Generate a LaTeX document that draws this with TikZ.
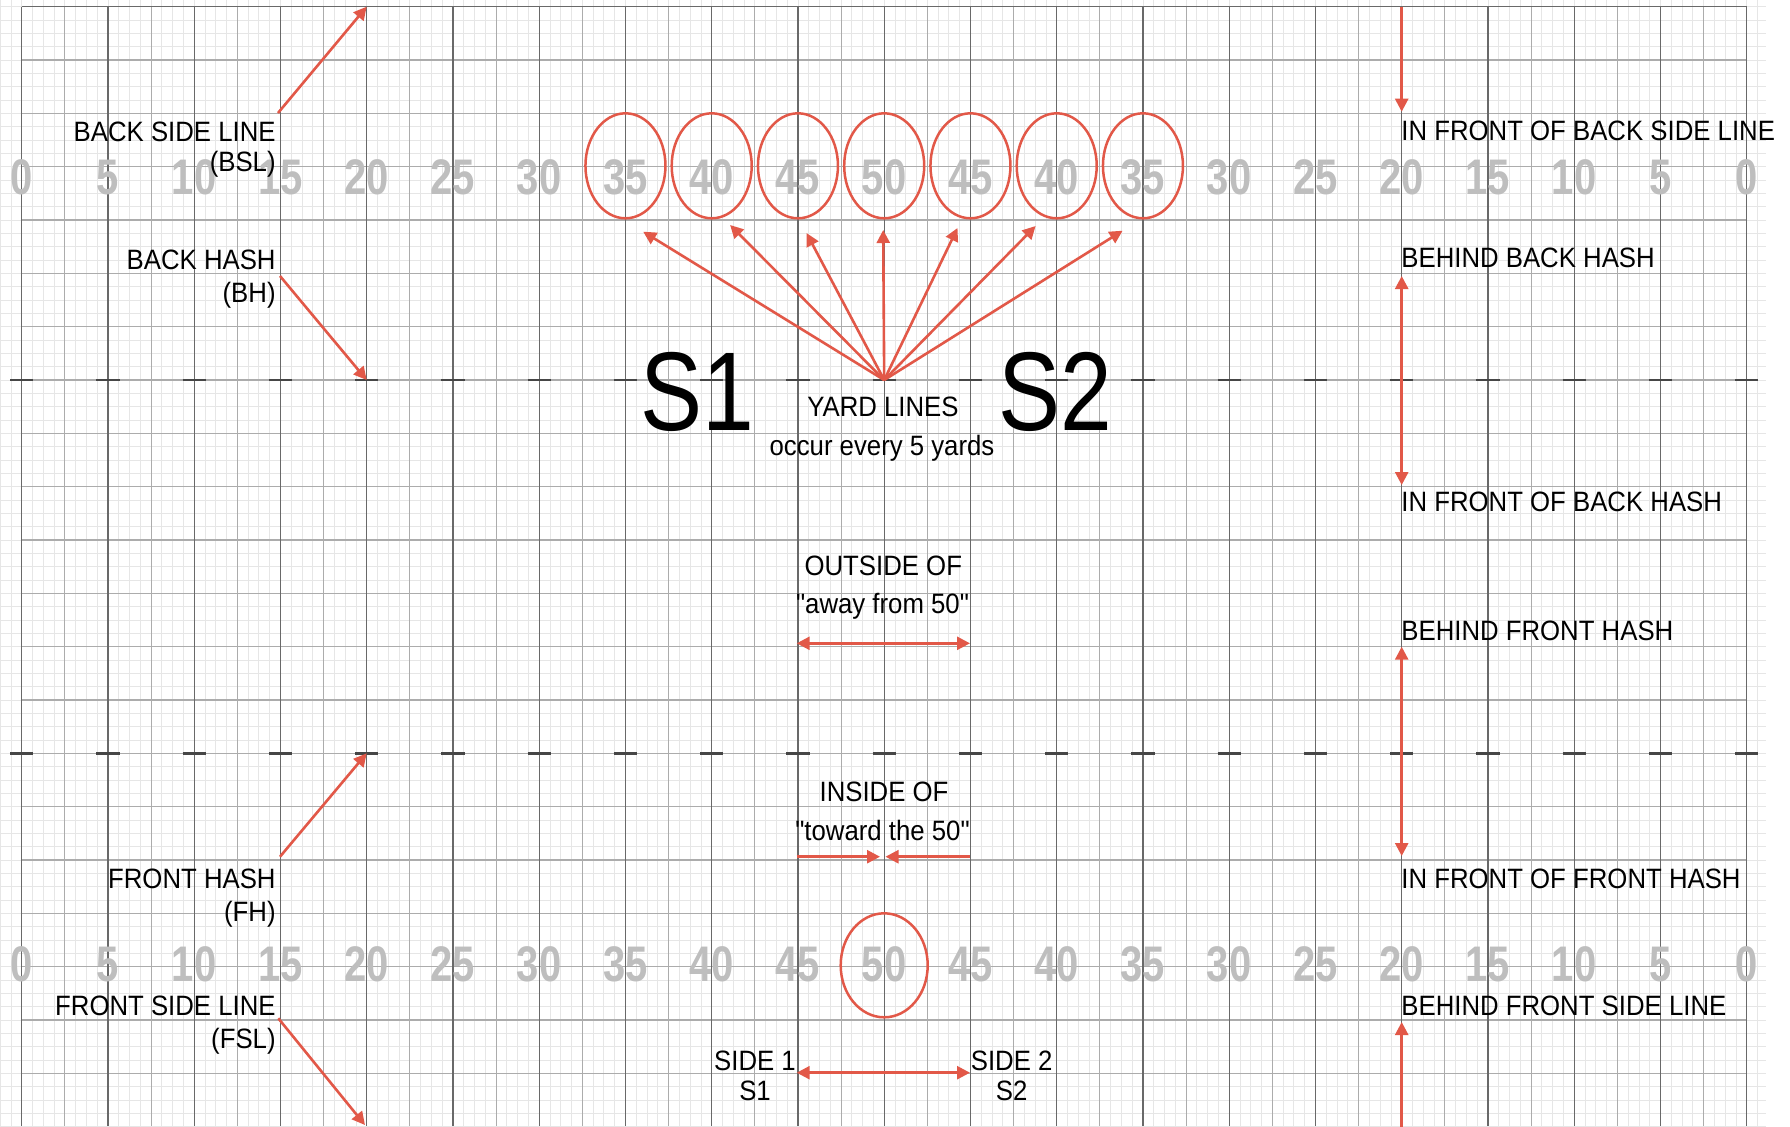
\documentclass[tikz,border=0pt]{standalone}
\usepackage{fontspec}
\setmainfont{Liberation Sans}[FakeStretch=0.92, Ligatures=TeXOff]
\newfontfamily\numfont{Liberation Sans}[FakeStretch=0.8]
\newfontfamily\bigfont{Liberation Sans}[FakeStretch=0.83]
\usetikzlibrary{arrows.meta}
\definecolor{arrowred}{RGB}{226,88,72}
\definecolor{numgray}{RGB}{190,190,190}
\definecolor{darkline}{RGB}{105,105,105}
\definecolor{midline}{RGB}{172,172,172}
\definecolor{fineline}{RGB}{230,230,230}
\definecolor{hashcol}{RGB}{70,70,70}
\begin{document}
\begin{tikzpicture}[x=0.5pt,y=-0.5pt,
  fine/.style={draw=fineline, line width=0.4pt},
  mid/.style={draw=midline, line width=0.55pt},
  major/.style={draw=darkline, line width=0.65pt},
  hashmark/.style={draw=hashcol, line width=1.3pt},
  yardnum/.style={text=numgray, font=\numfont\bfseries\fontsize{25}{25}\selectfont, inner sep=0pt, anchor=base},
  lbl/.style={font=\fontsize{14}{16}\selectfont, inner sep=0pt, text=black},
  lblR/.style={lbl, anchor=base west},
  lblL/.style={lbl, anchor=base east},
  lblC/.style={lbl, anchor=base},
  redarrow/.style={draw=arrowred, line width=1.3pt, -{Triangle[length=6.5pt,width=6.5pt]}},
  ring/.style={draw=arrowred, line width=1.25pt},
  bigS/.style={font=\bigfont\fontsize{56}{56}\selectfont, inner sep=0pt, anchor=base west, text=black}
]
\useasboundingbox (0,0) rectangle (1790,1126);
\clip (0,0) rectangle (1790,1126);
\fill[white] (0,0) rectangle (1790,1126);

% fine grid
\foreach \k in {-2,...,161}
  \draw[fine] ({21.7+\k*10.78125},0) -- ({21.7+\k*10.78125},1126);
\foreach \j in {0,...,84}
  \draw[fine] (0,{6.7+\j*13.3333}) -- (1766,{6.7+\j*13.3333});

% medium grid
\foreach \k in {0,...,19}
  \draw[mid] ({21.7+43.125*(2*\k+1)},6.7) -- ({21.7+43.125*(2*\k+1)},1126);
\foreach \j in {1,...,20}
  \draw[mid] (21.7,{6.7+\j*53.3333}) -- (1746.7,{6.7+\j*53.3333});
\draw[mid] (10,380) -- (1758,380);
\draw[mid] (10,753.3) -- (1758,753.3);

% yard lines
\foreach \k in {0,...,20}
  \draw[major] ({21.7+86.25*\k},6.7) -- ({21.7+86.25*\k},1126);
\draw[major] (21.7,6.7) -- (1746.7,6.7);

% hash marks
\foreach \k in {0,...,20} {
  \draw[hashmark] ({21.7+86.25*\k-11.7},380) -- ({21.7+86.25*\k+11.7},380);
  \draw[hashmark] ({21.7+86.25*\k-11.7},753.3) -- ({21.7+86.25*\k+11.7},753.3);
}

% yard numbers
\foreach \k/\n in {0/0,1/5,2/10,3/15,4/20,5/25,6/30,7/35,8/40,9/45,10/50,11/45,12/40,13/35,14/30,15/25,16/20,17/15,18/10,19/5,20/0} {
  \node[yardnum] (nt\k) at ({21.7+86.25*\k},194.5) {\n};
  \node[yardnum] (nb\k) at ({21.7+86.25*\k},981.5) {\n};
}

% left labels
\node[lblL] (bsla) at (276,141.7) {BACK SIDE LINE};
\node[lblL] (bslb) at (276,171.7) {(BSL)};
\node[lblL] (bha) at (276,269) {BACK HASH};
\node[lblL] (bhb) at (276,302) {(BH)};
\node[lblL] (fha) at (276,888) {FRONT HASH};
\node[lblL] (fhb) at (276,921.7) {(FH)};
\node[lblL] (fsla) at (276,1015) {FRONT SIDE LINE};
\node[lblL] (fslb) at (276,1048.5) {(FSL)};

% right labels
\node[lblR] (r1) at (1401,140) {IN FRONT OF BACK SIDE LINE};
\node[lblR] (r2) at (1401,267) {BEHIND BACK HASH};
\node[lblR] (r3) at (1401,511) {IN FRONT OF BACK HASH};
\node[lblR] (r4) at (1401,640) {BEHIND FRONT HASH};
\node[lblR] (r5) at (1401,888) {IN FRONT OF FRONT HASH};
\node[lblR] (r6) at (1401,1015) {BEHIND FRONT SIDE LINE};

% centre labels
\node[lblC] (yl1) at (883,416.7) {YARD LINES};
\node[lblC] (yl2) at (882,455) {occur every 5 yards};
\node[lblC] (out1) at (883.3,575) {OUTSIDE OF};
\node[lblC] (out2) at (882.5,613.3) {"away from 50"};
\node[lblC] (in1) at (884,801.7) {INSIDE OF};
\node[lblC] (in2) at (882.5,840) {"toward the 50"};
\node[lblC] (sa1) at (755,1070) {SIDE 1};
\node[lblC] (sa2) at (755,1100) {S1};
\node[lblC] (sb1) at (1011.7,1070) {SIDE 2};
\node[lblC] (sb2) at (1011.7,1100) {S2};

% big side names
\node[bigS] (bigS1) at (640,430) {S1};
\node[bigS] (bigS2) at (998,430) {S2};

% circles
\foreach \k in {7,...,13}
  \draw[ring] ({21.7+86.25*\k},165.8) ellipse [x radius=20pt, y radius=26.25pt];
\draw[ring] (884.2,965.3) ellipse [x radius=21.75pt, y radius=26pt];

% coordinates for connectors
\coordinate (bslS) at (278,113);
\coordinate (bslT) at (366.7,6.7);
\coordinate (bhS) at (280,276);
\coordinate (bhT) at (366.7,380);
\coordinate (fhS) at (280,856.7);
\coordinate (fhT) at (366.7,753.3);
\coordinate (fslS) at (278.3,1018.3);
\coordinate (fslT) at (365,1125);

\coordinate (rA0) at (1401.7,6.7);
\coordinate (rA1) at (1401.7,111.7);
\coordinate (rB0) at (1401.7,380);
\coordinate (rB1) at (1401.7,276);
\coordinate (rB2) at (1401.7,485);
\coordinate (rC0) at (1401.7,753.3);
\coordinate (rC1) at (1401.7,646.7);
\coordinate (rC2) at (1401.7,856);
\coordinate (rD0) at (1401.7,1128);
\coordinate (rD1) at (1401.7,1022);

\coordinate (fanO) at (884.2,380);
\coordinate (f1) at (643.2,231.7);
\coordinate (f2) at (730.1,225);
\coordinate (f3) at (806.5,233);
\coordinate (f4) at (883.2,230);
\coordinate (f5) at (957.5,228);
\coordinate (f6) at (1035.6,226);
\coordinate (f7) at (1122.6,230.7);

\coordinate (outC) at (882.5,643.3);
\coordinate (outL) at (796.7,643.3);
\coordinate (outR) at (970,643.3);
\coordinate (inL) at (796.7,856.7);
\coordinate (inLT) at (880,856.7);
\coordinate (inR) at (970,856.7);
\coordinate (inRT) at (885.5,856.7);
\coordinate (sdC) at (882.7,1072.7);
\coordinate (sdL) at (796.7,1072.7);
\coordinate (sdR) at (970,1072.7);

% connectors
\draw[redarrow] (bslS) -- (bslT);
\draw[redarrow] (bhS) -- (bhT);
\draw[redarrow] (fhS) -- (fhT);
\draw[redarrow] (fslS) -- (fslT);

\draw[redarrow] (rA0) -- (rA1);
\draw[redarrow] (rB0) -- (rB1);
\draw[redarrow] (rB0) -- (rB2);
\draw[redarrow] (rC0) -- (rC1);
\draw[redarrow] (rC0) -- (rC2);
\draw[redarrow] (rD0) -- (rD1);

\foreach \t in {f1,f2,f3,f4,f5,f6,f7}
  \draw[redarrow] (fanO) -- (\t);

\draw[redarrow] (outC) -- (outL);
\draw[redarrow] (outC) -- (outR);
\draw[redarrow] (inL) -- (inLT);
\draw[redarrow] (inR) -- (inRT);
\draw[redarrow] (sdC) -- (sdL);
\draw[redarrow] (sdC) -- (sdR);
\end{tikzpicture}
\end{document}
